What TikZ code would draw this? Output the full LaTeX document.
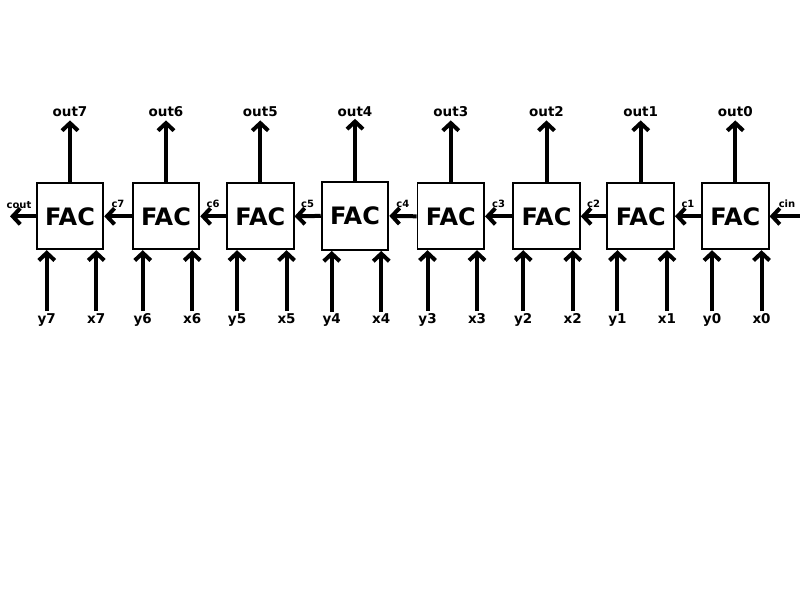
\documentclass[tikz,border=0pt]{standalone}
\usepackage{fontspec}
\setmainfont{DejaVu Sans}
\usetikzlibrary{arrows.meta}
\begin{document}
\begin{tikzpicture}[x=1pt,y=-1pt,
  fac/.style={draw, line width=1.8pt, minimum width=66.7pt, minimum height=66pt, inner sep=0pt,
    font=\fontsize{24}{24}\selectfont\bfseries},
  arr/.style={line width=4pt, -{Straight Barb[length=7.5pt,width=16pt]}},
  lbl/.style={font=\fontsize{13.5}{13.5}\selectfont\bfseries, inner sep=0pt, anchor=base},
  clbl/.style={font=\fontsize{10}{10}\selectfont\bfseries, inner sep=0pt, anchor=base}]
\useasboundingbox (0,0) rectangle (800,600);
\foreach \i/\cx in {7/70,6/166,5/260.3,3/450.8,2/546.5,1/640.7,0/735.3} {
  \node[fac] (b\i) at (\cx,216.3) {FAC};
}
\node[fac, minimum height=68.3pt] (b4) at (355,215.9) {FAC};
\foreach \i in {0,...,7} {
  \path (b\i.north) ++(0,-62) coordinate (ot\i);
  \draw[arr] (b\i.north) -- (ot\i);
  \node[lbl] (ol\i) at (b\i.north |- 0,116) {out\i};
  \path (b\i.south west) ++(11,61) coordinate (ys\i);
  \path (b\i.south east) ++(-8,61) coordinate (xs\i);
  \draw[arr] (ys\i) -- (ys\i |- b\i.south);
  \draw[arr] (xs\i) -- (xs\i |- b\i.south);
  \node[lbl] (yl\i) at (ys\i |- 0,323) {y\i};
  \node[lbl] (xl\i) at (xs\i |- 0,323) {x\i};
}
\foreach \i/\j in {1/0,2/1,3/2,4/3,5/4,6/5,7/6} {
  \draw[arr] (b\j.west) -- (b\i.east);
  \path (b\j.west) -- (b\i.east) coordinate[midway] (cm\i);
  \node[clbl] (cl\i) at (cm\i |- 0,207.5) {c\i};
}
\coordinate (coutend) at (10,216.3);
\draw[arr] (b7.west) -- (coutend);
\node[clbl] (coutl) at (19,208) {cout};
\coordinate (cinstart) at (800,216.3);
\draw[arr] (cinstart) -- (b0.east);
\node[clbl] (cinl) at (787,207.5) {cin};
\end{tikzpicture}
\end{document}
